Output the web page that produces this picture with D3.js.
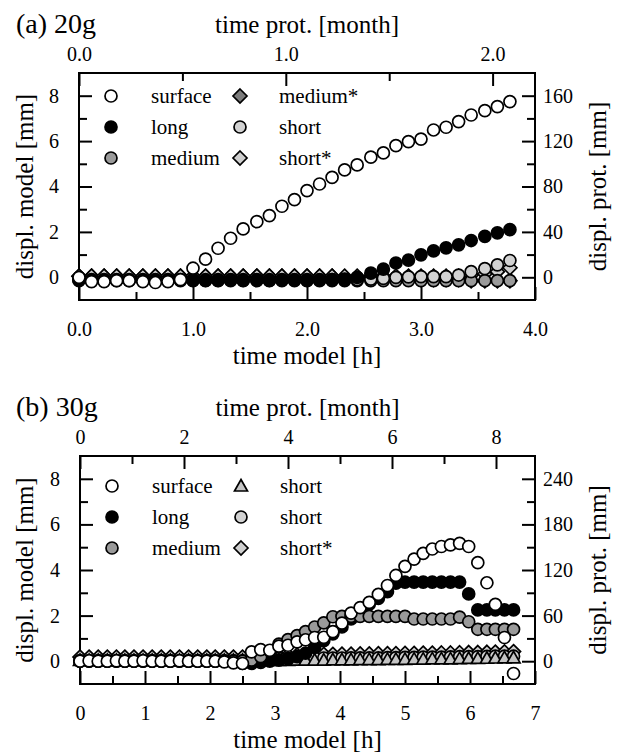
<!DOCTYPE html>
<html>
<head>
<meta charset="utf-8">
<script src="https://cdn.jsdelivr.net/npm/d3@7"></script>
<style>
  body { margin: 0; background: #fff; }
  svg text { font-family: "Liberation Serif", "Times New Roman", serif; fill: #000; }
</style>
</head>
<body>
<svg id="chart" width="619" height="756"></svg>
<script>
// ---- panel (a) 20g ----
const timeA = [0, 0.11, 0.22, 0.33, 0.44, 0.56, 0.67, 0.78, 0.89, 1.00, 1.11, 1.22, 1.33, 1.44, 1.56, 1.67, 1.78, 1.89,
  2.00, 2.11, 2.22, 2.33, 2.44, 2.56, 2.67, 2.78, 2.89, 3.00, 3.11, 3.22, 3.33, 3.44, 3.56, 3.67, 3.78];
const surfaceA = [0, -0.19, -0.19, -0.15, -0.15, -0.19, -0.23, -0.19, -0.1, 0.4, 0.8, 1.28, 1.72, 2.13, 2.45, 2.72, 3.13,
  3.42, 3.82, 4.11, 4.4, 4.73, 4.95, 5.29, 5.48, 5.8, 5.98, 6.09, 6.49, 6.61, 6.86, 7.15, 7.34, 7.52, 7.74];
const longA = [-0.12, -0.12, -0.12, -0.12, -0.12, -0.12, -0.12, -0.12, -0.12, -0.14, -0.14, -0.14, -0.12, -0.14, -0.12,
  -0.14, -0.12, -0.12, -0.14, -0.12, -0.1, -0.08, 0.0, 0.18, 0.36, 0.63, 0.76, 0.99, 1.16, 1.3, 1.43, 1.62, 1.8, 1.96, 2.1];
const mediumA = [-0.15, -0.15, -0.15, -0.15, -0.15, -0.15, -0.15, -0.15, -0.15, -0.15, -0.15, -0.15, -0.15, -0.15, -0.15,
  -0.15, -0.15, -0.15, -0.15, -0.15, -0.15, -0.15, -0.15, -0.15, -0.15, -0.15, -0.15, -0.15, -0.15, -0.15, -0.15, -0.15,
  -0.15, -0.15, -0.15];
const shortA = [-0.1, -0.1, -0.1, -0.1, -0.1, -0.1, -0.1, -0.1, -0.1, -0.1, -0.1, -0.1, -0.1, -0.1, -0.1, -0.1, -0.1,
  -0.1, -0.1, -0.1, -0.1, -0.1, -0.1, -0.08, -0.05, 0.0, 0.02, 0.03, 0.03, 0.03, 0.1, 0.25, 0.38, 0.55, 0.74];
const mediumStarA = [0.05, 0.05, 0.05, 0.05, 0.05, 0.05, 0.05, 0.05, 0.05, 0.05, 0.05, 0.05, 0.05, 0.05, 0.05, 0.05,
  0.05, 0.05, 0.05, 0.05, 0.05, 0, 0, 0, 0, 0, 0, -0.1, -0.1, -0.1, -0.1, -0.15, -0.15, -0.15, -0.15];
const shortStarA = [0.05, 0.05, 0.05, 0.05, 0.05, 0.05, 0.05, 0.05, 0.05, 0.05, 0.05, 0.05, 0.05, 0.05, 0.05, 0.05,
  0.05, 0.05, 0.05, 0.05, 0.05, 0.05, 0.05, 0.05, 0.05, 0.05, 0.05, 0.05, 0.05, 0.05, 0.05, 0.1, 0.15, 0.25, 0.42];

// ---- panel (b) 30g ----
const timeB = [0, 0.14, 0.28, 0.42, 0.56, 0.69, 0.83, 0.97, 1.11, 1.25, 1.39, 1.53, 1.67, 1.81, 1.95, 2.08, 2.22, 2.36,
  2.50, 2.64, 2.78, 2.92, 3.06, 3.20, 3.34, 3.47, 3.61, 3.75, 3.89, 4.03, 4.17, 4.31, 4.45, 4.59, 4.73, 4.86, 5.00, 5.14,
  5.28, 5.42, 5.56, 5.70, 5.84, 5.98, 6.12, 6.26, 6.39, 6.53, 6.67];
const surfaceB = [0, 0.02, 0, 0, 0.02, 0, 0, 0.02, 0, 0, 0, 0.02, 0, 0, 0, 0, -0.03, -0.07, -0.1, 0.41, 0.51, 0.48, 0.66,
  0.7, 0.85, 0.94, 1.04, 1.05, 1.3, 1.67, 2.11, 2.35, 2.58, 2.93, 3.32, 3.76, 4.16, 4.48, 4.73, 4.92, 5.03, 5.1, 5.17,
  5.03, 4.32, 3.44, 2.49, 1.04, -0.54];
const longB = [0, 0, 0, 0, 0, 0, 0, 0, 0, 0, 0, 0, 0, 0, 0, 0, 0, 0, -0.1, -0.1, -0.05, 0.0, 0.05, 0.1, 0.2, 0.35, 0.6,
  0.9, 1.2, 1.5, 1.85, 2.2, 2.5, 2.75, 3.05, 3.42, 3.47, 3.47, 3.47, 3.47, 3.47, 3.47, 3.47, 2.95, 2.25, 2.25, 2.25,
  2.25, 2.25];
const mediumB = [0, 0, 0, 0, 0, 0, 0, 0, 0, 0, 0, 0, 0, 0, 0, 0, 0, 0, 0, 0.05, 0.2, 0.45, 0.75, 0.95, 1.12, 1.3, 1.5,
  1.68, 1.95, 1.97, 1.97, 1.97, 1.97, 1.97, 1.97, 1.97, 1.97, 1.85, 1.85, 1.85, 1.85, 1.85, 1.93, 1.73, 1.4, 1.4, 1.4,
  1.4, 1.4];
const shortCircB = [0.02, 0.02, 0.02, 0.02, 0.02, 0.02, 0.02, 0.02, 0.02, 0.02, 0.02, 0.02, 0.02, 0.02, 0.02, 0.02,
  0.02, 0.02, 0.02, 0.02, 0.02, 0.1, 0.12, 0.12, 0.12, 0.12, 0.14, 0.14, 0.14, 0.14, 0.15, 0.15, 0.15, 0.15, 0.16, 0.16,
  0.17, 0.17, 0.18, 0.18, 0.18, 0.19, 0.2, 0.2, 0.2, 0.21, 0.22, 0.22, 0.22];
const shortTriB = [0.03, 0.03, 0.03, 0.03, 0.03, 0.03, 0.03, 0.03, 0.03, 0.03, 0.03, 0.03, 0.03, 0.03, 0.03, 0.03, 0.03,
  0.03, 0.03, 0.03, 0.03, 0.03, 0.04, 0.04, 0.05, 0.05, 0.05, 0.05, 0.06, 0.06, 0.06, 0.07, 0.07, 0.07, 0.08, 0.08, 0.08,
  0.09, 0.09, 0.1, 0.1, 0.1, 0.11, 0.12, 0.12, 0.13, 0.14, 0.15, 0.15];
const shortStarB = [0.18, 0.18, 0.18, 0.18, 0.18, 0.18, 0.18, 0.18, 0.18, 0.18, 0.18, 0.18, 0.18, 0.18, 0.18, 0.18,
  0.18, 0.18, 0.18, 0.2, 0.22, 0.23, 0.25, 0.26, 0.27, 0.28, 0.29, 0.3, 0.3, 0.31, 0.31, 0.32, 0.32, 0.33, 0.33, 0.33,
  0.34, 0.34, 0.35, 0.35, 0.36, 0.36, 0.37, 0.38, 0.38, 0.39, 0.4, 0.41, 0.42];

// ---- ticks ----
const modelTicks = [0, 2, 4, 6, 8];
const modelMinor = [1, 3, 5, 7];
const hourTicksA = [0, 1, 2, 3, 4];
const hourMinorA = [0.5, 1.5, 2.5, 3.5];
const monthTicksA = [0, 1, 2];
const monthMinorA = [0.5, 1.5];
const protTicksA = [0, 40, 80, 120, 160];
const protMinorA = [20, 60, 100, 140];
const hourTicksB = [0, 1, 2, 3, 4, 5, 6, 7];
const hourMinorB = [0.5, 1.5, 2.5, 3.5, 4.5, 5.5, 6.5];
const monthTicksB = [0, 2, 4, 6, 8];
const monthMinorB = [1, 3, 5, 7];
const protTicksB = [0, 60, 120, 180, 240];
const protMinorB = [30, 90, 150, 210];

// marker styles
const styles = {
  surface: { shape: "circle", fill: "#ffffff" },
  long: { shape: "circle", fill: "#000000" },
  medium: { shape: "circle", fill: "#9a9a9a" },
  short: { shape: "circle", fill: "#d2d2d2" },
  shortTri: { shape: "triangle", fill: "#c4c4c4" },
  mediumStar: { shape: "diamond", fill: "#7c7c7c" },
  shortStar: { shape: "diamond", fill: "#cfcfcf" }
};

const panels = [
  {
    label: "(a) 20g", top: 73, bottom: 300, left: 79, right: 535,
    hours: [0, 4], months: [0, 2.205], prot: [-20, 180],
    hourTicks: hourTicksA, hourMinor: hourMinorA, hourFmt: d3.format(".1f"),
    monthTicks: monthTicksA, monthMinor: monthMinorA, monthFmt: d3.format(".1f"),
    protTicks: protTicksA, protMinor: protMinorA,
    time: timeA,
    series: [
      ["mediumStar", mediumStarA], ["shortStar", shortStarA], ["medium", mediumA],
      ["short", shortA], ["long", longA], ["surface", surfaceA]
    ],
    legend: [
      ["surface", "surface"], ["long", "long"], ["medium", "medium"],
      ["mediumStar", "medium*"], ["short", "short"], ["shortStar", "short*"]
    ],
    legendRows: [96, 127, 158]
  },
  {
    label: "(b) 30g", top: 456, bottom: 684, left: 80, right: 535,
    hours: [0, 7], months: [0, 8.75], prot: [-30, 270],
    hourTicks: hourTicksB, hourMinor: hourMinorB, hourFmt: d3.format("d"),
    monthTicks: monthTicksB, monthMinor: monthMinorB, monthFmt: d3.format("d"),
    protTicks: protTicksB, protMinor: protMinorB,
    time: timeB,
    series: [
      ["shortStar", shortStarB], ["short", shortCircB], ["shortTri", shortTriB],
      ["long", longB], ["medium", mediumB], ["surface", surfaceB]
    ],
    legend: [
      ["surface", "surface"], ["long", "long"], ["medium", "medium"],
      ["shortTri", "short"], ["short", "short"], ["shortStar", "short*"]
    ],
    legendRows: [486, 517, 548]
  }
];

const svg = d3.select("#chart");
svg.append("rect").attr("width", 619).attr("height", 756).attr("fill", "#fff");

function drawMarker(g, key) {
  const st = styles[key];
  let m;
  if (st.shape === "circle") {
    m = g.append("circle").attr("r", 6);
  } else if (st.shape === "diamond") {
    m = g.append("path").attr("d", "M0,-7L7,0L0,7L-7,0Z");
  } else {
    m = g.append("path").attr("d", "M0,-6.5L6.5,5L-6.5,5Z");
  }
  m.attr("fill", st.fill).attr("stroke", "#000").attr("stroke-width", 1.7);
}

function styleAxis(g, size) {
  g.select(".domain").remove();
  g.selectAll("line").attr("stroke", "#000").attr("stroke-width", 2);
  g.attr("font-family", null).attr("font-size", size);
}

panels.forEach(p => {
  const x = d3.scaleLinear().domain(p.hours).range([p.left, p.right]);
  const xm = d3.scaleLinear().domain(p.months).range([p.left, p.right]);
  const y = d3.scaleLinear().domain([-1, 9]).range([p.bottom, p.top]);
  const yp = d3.scaleLinear().domain(p.prot).range([p.bottom, p.top]);
  const cx = (p.left + p.right) / 2;
  const cy = (p.top + p.bottom) / 2;

  // axes (ticks point inward)
  const axes = [
    [d3.axisBottom(x), p.hourTicks, p.hourMinor, p.hourFmt, `translate(0,${p.bottom})`, 22],
    [d3.axisTop(xm), p.monthTicks, p.monthMinor, p.monthFmt, `translate(0,${p.top})`, 12],
    [d3.axisLeft(y), modelTicks, modelMinor, d3.format("d"), `translate(${p.left},0)`, 20],
    [d3.axisRight(yp), p.protTicks, p.protMinor, d3.format("d"), `translate(${p.right},0)`, 8]
  ];
  axes.forEach(([ax, major, minor, fmt, tr, pad]) => {
    const gMin = svg.append("g").attr("transform", tr)
      .call(ax.tickValues(minor).tickSize(-8).tickFormat(""));
    styleAxis(gMin, 20);
    const gMaj = svg.append("g").attr("transform", tr)
      .call(ax.tickValues(major).tickSize(-13).tickPadding(pad).tickFormat(fmt));
    styleAxis(gMaj, 20);
  });

  // frame
  svg.append("rect")
    .attr("x", p.left).attr("y", p.top)
    .attr("width", p.right - p.left).attr("height", p.bottom - p.top)
    .attr("fill", "none").attr("stroke", "#000").attr("stroke-width", 2);

  // data points
  p.series.forEach(([key, vals]) => {
    const g = svg.append("g");
    vals.forEach((v, i) => {
      const mg = g.append("g").attr("transform", `translate(${x(p.time[i])},${y(v)})`);
      drawMarker(mg, key);
    });
  });

  // legend
  p.legend.forEach(([key, text], i) => {
    const col = Math.floor(i / 3), row = i % 3;
    const mx = col === 0 ? p.left + 32 : p.left + 161;
    const tx = col === 0 ? p.left + 72 : p.left + 200;
    const ry = p.legendRows[row];
    drawMarker(svg.append("g").attr("transform", `translate(${mx},${ry})`), key);
    svg.append("text").attr("x", tx).attr("y", ry + 7).attr("font-size", 21).text(text);
  });

  // titles
  svg.append("text").attr("x", 16).attr("y", p.top - 40).attr("font-size", 28).text(p.label);
  svg.append("text").attr("x", cx).attr("y", p.top - 40).attr("font-size", 25)
    .attr("text-anchor", "middle").text("time prot. [month]");
  svg.append("text").attr("x", cx).attr("y", p.bottom + 64).attr("font-size", 25)
    .attr("text-anchor", "middle").text("time model [h]");
  svg.append("text").attr("transform", `translate(33,${cy}) rotate(-90)`).attr("font-size", 25)
    .attr("text-anchor", "middle").text("displ. model [mm]");
  svg.append("text").attr("transform", `translate(606,${cy}) rotate(-90)`).attr("font-size", 25)
    .attr("text-anchor", "middle").text("displ. prot. [mm]");
});
</script>
</body>
</html>
